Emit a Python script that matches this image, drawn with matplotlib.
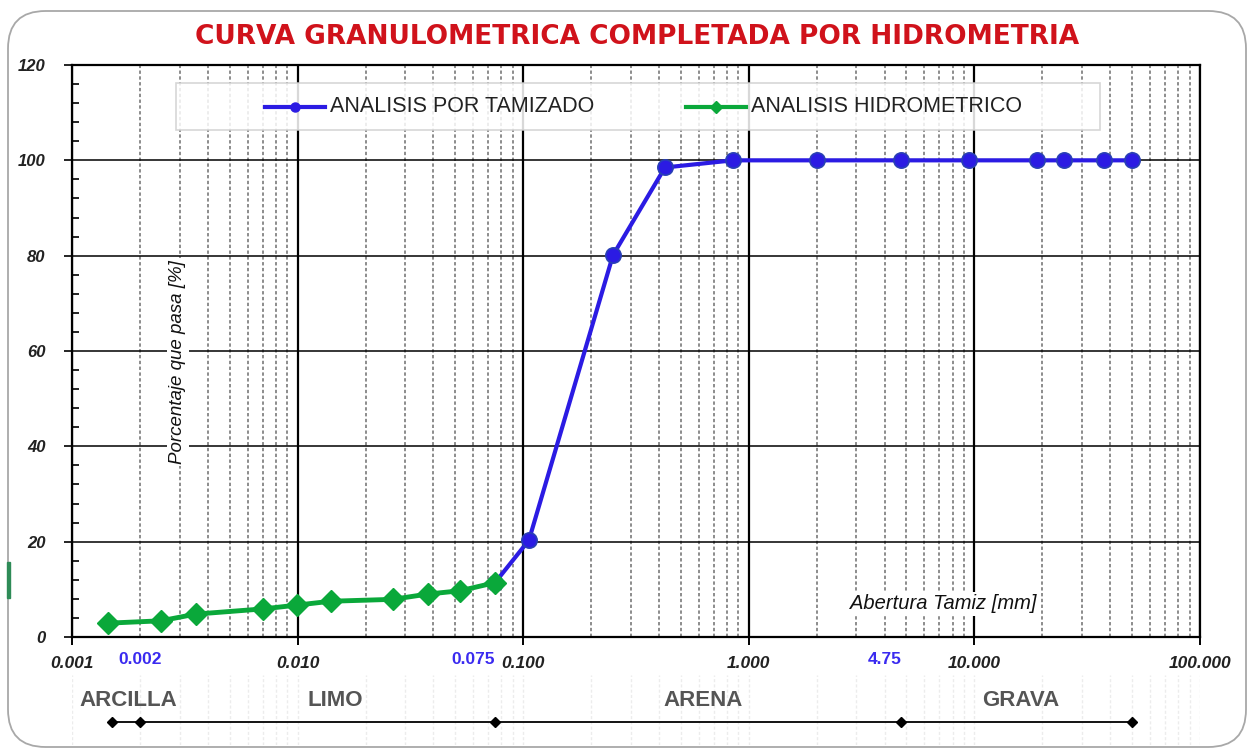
import matplotlib
matplotlib.use("Agg")
import matplotlib.pyplot as plt
from matplotlib.patches import FancyBboxPatch, Rectangle
from matplotlib.lines import Line2D
from matplotlib.ticker import FixedLocator, NullFormatter

# ---- data -------------------------------------------------------------
sieve_mm = [0.075, 0.106, 0.25, 0.425, 0.85, 2.0, 4.75, 9.5, 19.0, 25.0, 37.5, 50.0]
sieve_pass = [11.4, 20.3, 80.1, 98.5, 100.0, 100.0, 100.0, 100.0, 100.0, 100.0, 100.0, 100.0]

hydro_mm = [0.00144, 0.00248, 0.00353, 0.00705, 0.00997, 0.0140, 0.0264, 0.0377, 0.0525, 0.075]
hydro_pass = [2.9, 3.4, 4.8, 5.9, 6.7, 7.5, 7.9, 9.0, 9.7, 11.4]

series_names = ["ANALISIS POR TAMIZADO", "ANALISIS HIDROMETRICO"]

xtick_values = [0.001, 0.01, 0.1, 1.0, 10.0, 100.0]
xtick_labels = ["0.001", "0.010", "0.100", "1.000", "10.000", "100.000"]
ytick_values = [0, 20, 40, 60, 80, 100, 120]

limit_values = [0.002, 0.075, 4.75]
limit_labels = ["0.002", "0.075", "4.75"]

class_bounds = [0.0015, 0.002, 0.075, 4.75, 50.0]
class_names = ["ARCILLA", "LIMO", "ARENA", "GRAVA"]
class_label_x = [0.00177, 0.0147, 0.63, 16.1]

# ---- style ------------------------------------------------------------
BLUE = "#2b1be3"
GREEN = "#0aa83a"
TITLE_RED = "#d0121b"
NARROW = ["Liberation Sans Narrow", "Liberation Sans", "DejaVu Sans"]
ARIAL = ["Liberation Sans", "DejaVu Sans"]

W, H = 1252, 750
fig = plt.figure(figsize=(W / 100, H / 100), dpi=100)
fig.patch.set_facecolor("white")

# rounded outer frame (behind everything)
frame = FancyBboxPatch((8 / W, 3 / H), 1238 / W, 736 / H,
                       boxstyle="round,pad=0,rounding_size=0.03",
                       transform=fig.transFigure, facecolor="none",
                       edgecolor="#a8a8a8", linewidth=1.3, zorder=-10,
                       mutation_aspect=W / H)
fig.patches.append(frame)
fig.patches.append(Rectangle((7 / W, (H - 598) / H), 2.5 / W, 36 / H,
                             transform=fig.transFigure, color="#2e8b57", zorder=-9))

fig.text(637 / W, 1 - 37 / H, "CURVA GRANULOMETRICA COMPLETADA POR HIDROMETRIA",
         ha="center", va="center", color=TITLE_RED, fontsize=19,
         fontweight="bold", family=["DejaVu Sans"])

# ---- main axes --------------------------------------------------------
ax = fig.add_axes([72 / W, (H - 637) / H, 1128 / W, 572 / H])
ax.set_xscale("log")
ax.set_xlim(0.001, 100)
ax.set_ylim(0, 120)

ax.set_xticks(xtick_values, xtick_labels)
ax.xaxis.set_minor_formatter(NullFormatter())
ax.set_yticks(ytick_values)
ax.yaxis.set_minor_locator(FixedLocator([v for v in range(0, 121, 4) if v % 20]))

ax.grid(which="major", axis="x", color="black", linewidth=1.6)
ax.grid(which="minor", axis="x", color="#6e6e6e", linewidth=1.1, linestyle=(0, (2.2, 1.6)))
ax.grid(which="major", axis="y", color="black", linewidth=1.1)
ax.set_axisbelow(True)

for s in ax.spines.values():
    s.set_color("black")
    s.set_linewidth(1.6)

ax.tick_params(axis="y", which="major", direction="out", length=6, width=1.2, pad=13)
ax.tick_params(axis="y", which="minor", direction="in", length=5, width=1.2)
ax.tick_params(axis="x", which="major", direction="out", length=6, width=1.4, pad=8)
ax.tick_params(axis="x", which="minor", direction="in", length=0)
for lab in ax.get_yticklabels():
    lab.set_fontfamily(ARIAL)
    lab.set_fontsize(12)
    lab.set_fontweight("bold")
    lab.set_fontstyle("italic")
    lab.set_color("#222222")
for lab in ax.get_xticklabels():
    lab.set_fontfamily(ARIAL)
    lab.set_fontsize(12.5)
    lab.set_fontweight("bold")
    lab.set_fontstyle("italic")
    lab.set_color("#222222")

# curves
ax.plot(sieve_mm, sieve_pass, color=BLUE, linewidth=3, marker="o", markersize=11,
        markerfacecolor=BLUE, markeredgecolor="#2940b5", markeredgewidth=1.2,
        zorder=4, label=series_names[0])
ax.plot(hydro_mm, hydro_pass, color=GREEN, linewidth=3.5, marker="D", markersize=11,
        markerfacecolor=GREEN, markeredgecolor=GREEN, zorder=5, label=series_names[1])

# legend box
ax.add_patch(Rectangle((0.0922, 0.8864), 0.8191, 0.0821, transform=ax.transAxes,
                       facecolor="white", alpha=0.85, edgecolor="#cfcfcf",
                       linewidth=1.2, zorder=6))
leg_y = 0.9274
for x0, name, color, mk in [(0.1711, series_names[0], BLUE, "o"),
                            (0.5443, series_names[1], GREEN, "D")]:
    ax.add_line(Line2D([x0, x0 + 0.0532], [leg_y, leg_y], transform=ax.transAxes,
                       color=color, linewidth=3, zorder=7))
    ax.add_line(Line2D([x0 + 0.0266], [leg_y], transform=ax.transAxes, color=color,
                       marker=mk, markersize=6.5, zorder=7))
    ax.text(x0 + 0.0576, leg_y, name, transform=ax.transAxes, ha="left", va="center",
            fontsize=15.5, family=NARROW, color="#222222", zorder=7)

# axis titles placed inside the plotting area
ax.text(0.772, 0.0577, "Abertura Tamiz [mm]", transform=ax.transAxes, ha="center",
        va="center", fontsize=14.5, fontstyle="italic", family=ARIAL, color="#111111",
        bbox=dict(facecolor="white", edgecolor="none", pad=1.5), zorder=6)
ax.text((178 - 72) / 1128, (637 - 362) / 572, "Porcentaje que pasa [%]",
        transform=ax.transAxes, ha="center", va="center", rotation=90,
        fontsize=13.5, fontstyle="italic", family=NARROW, color="#111111",
        bbox=dict(facecolor="white", edgecolor="none", pad=1.5), zorder=6)

# highlighted limit sizes under the axis
for v, txt in zip(limit_values, limit_labels):
    ha = "center" if v < 0.01 else "right"
    ax.annotate(txt, xy=(v, 0), xycoords=("data", "axes fraction"),
                xytext=(0, -16), textcoords="offset points", ha=ha, va="center",
                fontsize=12.5, fontweight="bold", family=ARIAL, color="#3a2af0",
                annotation_clip=False)

# ---- soil classification strip ---------------------------------------
ax2 = fig.add_axes([72 / W, 5 / H, 1128 / W, 70 / H], sharex=ax)
ax2.set_ylim(0, 1)
for s in ax2.spines.values():
    s.set_visible(False)
ax2.tick_params(which="both", bottom=False, left=False, labelbottom=False, labelleft=False)
ax2.set_facecolor("none")
ax2.grid(which="both", axis="x", color="#ececec", linewidth=1.0, linestyle=(0, (2.2, 1.6)))
ax2.grid(which="both", axis="y", visible=False)
ax2.plot(class_bounds, [0.33] * len(class_bounds), color="black", linewidth=1.3,
         marker="D", markersize=5, zorder=3)
for xl, name in zip(class_label_x, class_names):
    ax2.text(xl, 0.64, name, ha="center", va="center", fontsize=16,
             fontweight="bold", family=NARROW, color="#555555")

fig.savefig("out.png", dpi=100, facecolor="white")
